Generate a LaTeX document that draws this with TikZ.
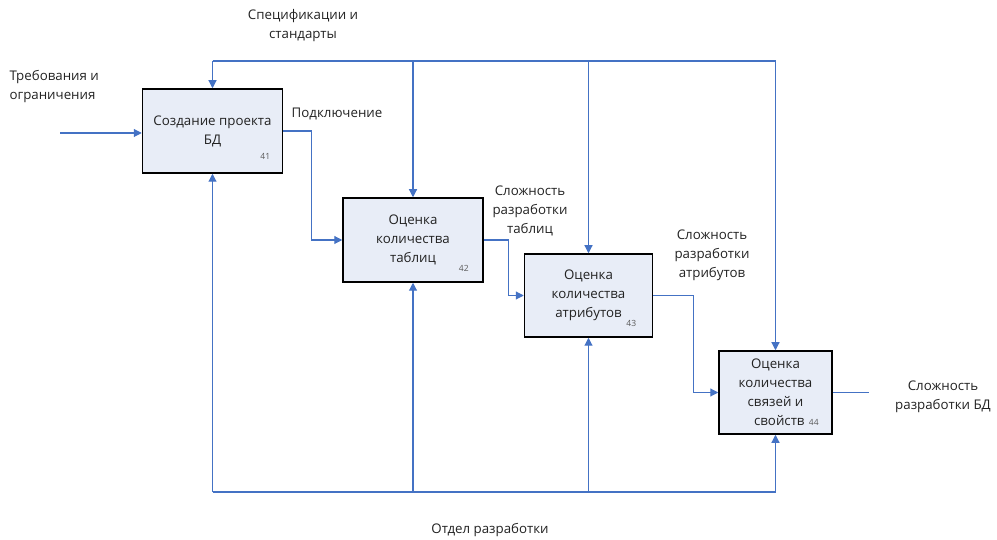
\documentclass[tikz,border=0pt]{standalone}
\usepackage{fontspec}
\setmainfont{Open Sans}
\usetikzlibrary{arrows.meta}
\definecolor{lineblue}{HTML}{4472C4}
\definecolor{boxfill}{HTML}{E8EDF7}
\definecolor{txt}{HTML}{222222}
\begin{document}
\begin{tikzpicture}[x=1pt,y=-1pt,
  font=\fontsize{13.3}{19}\selectfont,
  every node/.style={text=txt},
  proc/.style={draw=black,line width=1.5pt,fill=boxfill,align=center,inner sep=2pt},
  num/.style={font=\fontsize{8.5}{10}\selectfont,text=black!65},
  flow/.style={draw=lineblue,line width=1.1pt},
  arr/.style={flow,-{Triangle[length=8pt,width=8pt]}},
  lbl/.style={align=center}]
\useasboundingbox (0,0) rectangle (997,540);
% boxes
\node[proc,minimum width=140pt,minimum height=84pt] (b1) at (212.5,131) {Создание проекта\\БД};
\node[proc,minimum width=140pt,minimum height=84pt] (b2) at (413,240) {Оценка\\количества\\таблиц};
\node[proc,minimum width=128pt,minimum height=83pt] (b3) at (588.5,295.5) {Оценка\\количества\\атрибутов};
\node[proc,minimum width=113pt,minimum height=83pt] (b4) at (775.5,392.5) {Оценка\\количества\\связей и\\\phantom{44}свойств\phantom{4}};
\node[num] (n41) at ([shift={(-18,-17)}]b1.south east) {41};
\node[num] (n42) at ([shift={(-20,-14)}]b2.south east) {42};
\node[num] (n43) at ([shift={(-22,-14)}]b3.south east) {43};
\node[num] (n44) at ([shift={(-19,-12)}]b4.south east) {44};
% control (top)
\coordinate (tl) at (212.5,61);
\coordinate (tr) at (775.5,61);
\draw[flow] (tl) -- (tr);
\draw[arr] (tl) -- (b1.north);
\draw[arr] (b2.north |- tl) -- (b2.north);
\draw[arr] (b3.north |- tl) -- (b3.north);
\draw[arr] (tr) -- (b4.north);
% mechanism (bottom)
\coordinate (bl) at (212.5,492);
\coordinate (br) at (775.5,492);
\draw[flow] (bl) -- (br);
\draw[arr] (bl) -- (b1.south);
\draw[arr] (b2.south |- bl) -- (b2.south);
\draw[arr] (b3.south |- bl) -- (b3.south);
\draw[arr] (br) -- (b4.south);
% input
\coordinate (in) at (60,133);
\draw[arr] (in) -- (in -| b1.west);
% outputs
\draw[arr] (b1.east) -- ++(28,0) |- (b2.west);
\draw[arr] (b2.east) -- ++(25,0) |- (b3.west);
\draw[arr] (b3.east) -- ++(40,0) |- (b4.west);
\coordinate (out) at (869,392.5);
\draw[flow] (b4.east) -- (out);
% labels
\node[align=left,anchor=west] (lin) at (6,87) {Требования и\\ограничения};
\node[lbl] (lctl) at (303,26) {Спецификации и\\стандарты};
\node[lbl] (lo1) at (337,114) {Подключение};
\node[lbl] (lo2) at (530,211) {Сложность\\разработки\\таблиц};
\node[lbl] (lo3) at (712,255) {Сложность\\разработки\\атрибутов};
\node[lbl] (lo4) at (943,397) {Сложность\\разработки БД};
\node[lbl] (lmech) at (490,530) {Отдел разработки};
\end{tikzpicture}
\end{document}
